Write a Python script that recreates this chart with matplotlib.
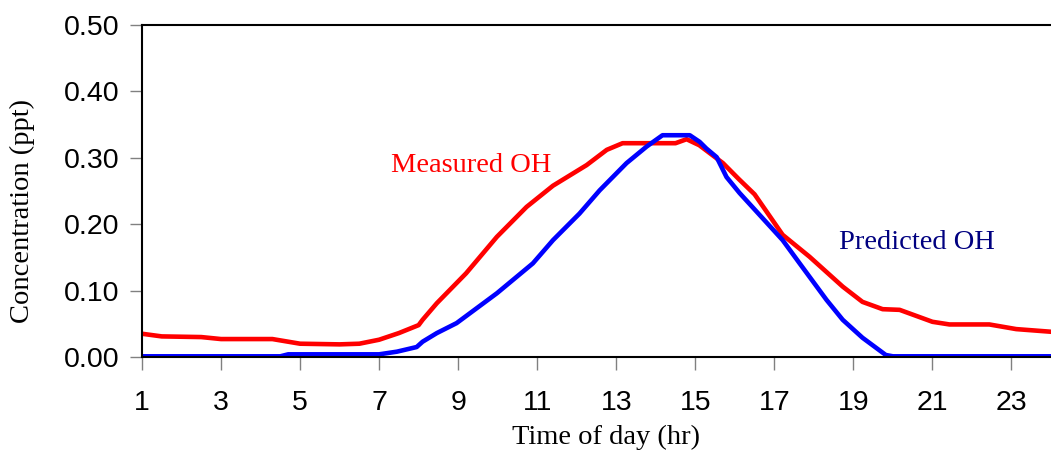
import matplotlib
matplotlib.use("Agg")
import matplotlib.pyplot as plt

# measured OH (red)
measured_hr = [1.0, 1.5, 2.5, 3.0, 4.3, 4.6, 5.0, 6.0, 6.5, 7.0, 7.5, 8.0, 8.1, 8.46,
               9.2, 9.98, 10.73, 11.4, 12.25, 12.76, 13.16, 14.5, 14.78, 15.1, 15.7,
               16.1, 16.5, 17.21, 17.89, 18.73, 19.23, 19.74, 20.17, 21.0, 21.43,
               22.44, 23.12, 24.0]
measured_oh = [0.035, 0.031, 0.030, 0.027, 0.027, 0.024, 0.020, 0.019, 0.020, 0.026,
               0.036, 0.048, 0.056, 0.081, 0.126, 0.181, 0.226, 0.258, 0.289, 0.312,
               0.322, 0.322, 0.328, 0.319, 0.292, 0.268, 0.245, 0.184, 0.151, 0.106,
               0.083, 0.072, 0.071, 0.053, 0.049, 0.049, 0.042, 0.038]

# predicted OH (blue)
predicted_hr = [1.0, 4.5, 4.7, 7.0, 7.45, 7.95, 8.1, 8.46, 8.96, 9.98, 10.89, 11.4,
                12.07, 12.58, 13.26, 13.77, 14.17, 14.86, 15.11, 15.28, 15.54, 15.79,
                16.12, 17.21, 17.64, 18.32, 18.73, 19.23, 19.82, 20.0, 24.0]
predicted_oh = [0.001, 0.001, 0.004, 0.004, 0.008, 0.015, 0.023, 0.036, 0.051, 0.096,
                0.141, 0.176, 0.216, 0.251, 0.292, 0.317, 0.334, 0.334, 0.324, 0.314,
                0.301, 0.271, 0.247, 0.176, 0.141, 0.086, 0.056, 0.029, 0.003, 0.001,
                0.001]

xticks = [1, 3, 5, 7, 9, 11, 13, 15, 17, 19, 21, 23]
yticks = [0.0, 0.1, 0.2, 0.3, 0.4, 0.5]

fig = plt.figure(figsize=(10.51, 4.5), dpi=100)
ax = fig.add_axes([0.1351, 0.2067, 0.8649, 0.7377])

ax.plot(measured_hr, measured_oh, color="#ff0000", lw=3.3, solid_joinstyle="round")
ax.plot(predicted_hr, predicted_oh, color="#0000ff", lw=3.3, solid_joinstyle="round")

ax.text(9.32, 0.289, "Measured OH", color="#ff0000", fontsize=20.5,
        family="Liberation Serif", ha="center", va="center")
ax.text(20.6, 0.172, "Predicted OH", color="#000080", fontsize=20.5,
        family="Liberation Serif", ha="center", va="center")

ax.set_xlim(1, 24)
ax.set_ylim(0, 0.5)
ax.set_xticks(xticks)
ax.set_yticks(yticks)
ax.set_yticklabels([f"{v:.2f}" for v in yticks])
ax.tick_params(axis="both", direction="out", color="#808080", length=9, width=1,
               labelsize=20.5, labelcolor="black")
ax.tick_params(axis="x", pad=15)
ax.tick_params(axis="y", pad=7)
for lab in ax.get_xticklabels() + ax.get_yticklabels():
    lab.set_family("Liberation Sans")

ax.spines["right"].set_visible(False)
for s in ["left", "top", "bottom"]:
    ax.spines[s].set_color("black")
    ax.spines[s].set_linewidth(1.5)

ax.set_xlabel("Time of day (hr)", family="Liberation Serif", fontsize=20.5, va="center")
ax.xaxis.set_label_coords(0.511, -0.241)
ax.set_ylabel("Concentration (ppt)", family="Liberation Serif", fontsize=20.5, va="center")
ax.yaxis.set_label_coords(-0.132, 0.44)

fig.savefig("out.png", dpi=100)
